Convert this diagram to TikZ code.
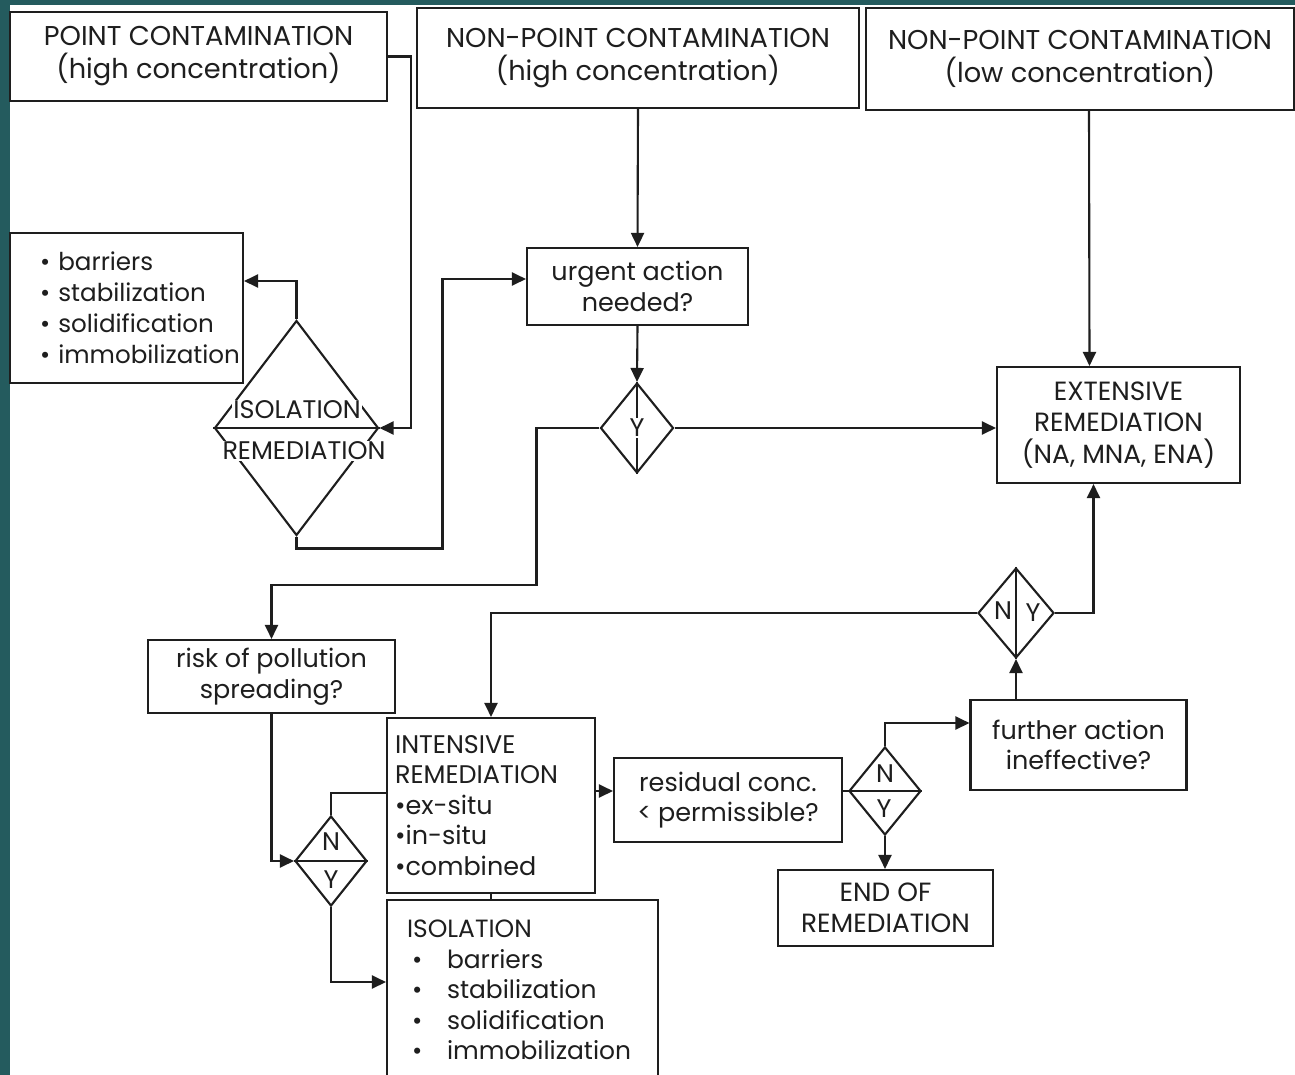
\documentclass[tikz,border=0pt]{standalone}
\usepackage{fontspec}
\setmainfont{Poppins}
\usetikzlibrary{arrows.meta,shapes.geometric}
\definecolor{Teal}{HTML}{245B5E}
\definecolor{Ink}{HTML}{1E1E1E}

\tikzset{
  box/.style={draw=Ink,line width=1.2pt,fill=white,align=center,inner sep=2pt,text=Ink,font=\fontsize{14.5}{17.5}\selectfont},
  head/.style={box,font=\fontsize{15.5}{18.8}\selectfont},
  dec/.style={draw=Ink,line width=1.2pt,diamond,inner sep=0pt},
  tag/.style={text=Ink,fill=white,inner sep=0.6pt,font=\fontsize{14.5}{16}\selectfont},
  link/.style={draw=Ink,line width=1.2pt},
  arr/.style={link,-{Triangle[length=0.28cm,width=0.26cm]}},
}
\newcommand{\bul}{\hspace*{0.1cm}\makebox[0.7cm][l]{\textbullet}}

\begin{document}
\begin{tikzpicture}[x=0.02cm,y=-0.02cm]
    \useasboundingbox (0,0) rectangle (1295,1075);
    \clip (0,0) rectangle (1295,1075);
    \fill[Teal] (0,0) rectangle (1295,1075);
    \fill[white] (10,5) rectangle (1295,1075);

    % sources of contamination
    \node[head,minimum width=7.54cm,minimum height=1.78cm] (pc) at (198.5,56.5) {POINT CONTAMINATION\\(high concentration)};
    \node[head,minimum width=8.84cm,minimum height=2.0cm] (nph) at (638,58) {NON-POINT CONTAMINATION\\(high concentration)};
    \node[head,minimum width=8.56cm,minimum height=2.04cm] (npl) at (1080,59) {NON-POINT CONTAMINATION\\(low concentration)};

    % isolation branch
    \node[box,minimum width=4.66cm,minimum height=3.0cm,align=left,text width=3.46cm,font=\fontsize{14}{17.6}\selectfont] (lst) at (126.5,308) {\mbox{\textbullet~barriers}\\\mbox{\textbullet~stabilization}\\\mbox{\textbullet~solidification}\\\mbox{\textbullet~immobilization}};
    \node[dec,minimum width=3.28cm,minimum height=4.3cm] (isod) at (296.5,428) {};
    \draw[link] (isod.west) -- (isod.east);
    \node[tag] at (297,410) {ISOLATION};
    \node[tag] at (304,451) {REMEDIATION};

    % urgency check
    \node[box,minimum width=4.42cm,minimum height=1.54cm] (urg) at (637.5,286.5) {urgent action\\needed?};
    \node[dec,minimum width=1.46cm,minimum height=1.8cm] (yd) at (637,428) {};
    \draw[link] (yd.north) -- (yd.south);
    \node[tag] at (yd) {Y};

    \node[box,minimum width=4.86cm,minimum height=2.32cm,font=\fontsize{15}{17.9}\selectfont] (ext) at (1118.5,425) {EXTENSIVE\\REMEDIATION\\(NA, MNA, ENA)};
    \node[dec,minimum width=1.52cm,minimum height=1.8cm] (nyd) at (1016,613) {};
    \draw[link] (nyd.north) -- (nyd.south);
    \node[tag] at (1003,611) {N};
    \node[tag] at (1033,613) {Y};

    % intensive branch
    \node[box,minimum width=4.94cm,minimum height=1.46cm] (risk) at (271.5,676.5) {risk of pollution\\spreading?};
    \node[box,minimum width=4.16cm,minimum height=3.5cm,align=left,text width=3.84cm,font=\fontsize{14.5}{17.3}\selectfont] (int) at (491,805.5) {INTENSIVE\\REMEDIATION\\\textbullet ex-situ\\\textbullet in-situ\\\textbullet combined};
    \node[dec,minimum width=1.44cm,minimum height=1.8cm] (nyd2) at (331,861) {};
    \draw[link] (nyd2.west) -- (nyd2.east);
    \node[tag] at (331,842) {N};
    \node[tag] at (331,880) {Y};
    \node[box,minimum width=5.42cm,minimum height=3.6cm,align=left,text width=4.62cm,font=\fontsize{14.2}{17.3}\selectfont] (iso) at (522.5,990) {ISOLATION\\\bul barriers\\\bul stabilization\\\bul solidification\\\bul immobilization};

    \node[box,minimum width=4.56cm,minimum height=1.68cm] (res) at (728,800) {residual conc.\\< permissible?};
    \node[dec,minimum width=1.44cm,minimum height=1.76cm] (nyd3) at (885,791) {};
    \draw[link] (nyd3.west) -- (nyd3.east);
    \node[tag] at (885,774) {N};
    \node[tag] at (884,809) {Y};
    \node[box,minimum width=4.3cm,minimum height=1.52cm,font=\fontsize{15}{17.5}\selectfont] (fin) at (885.5,908) {END OF\\REMEDIATION};
    \node[box,minimum width=4.32cm,minimum height=1.8cm] (fur) at (1078.5,745) {further action\\ineffective?};

    % connectors
    \draw[arr] (pc.east) -- ++(23,0) |- (isod.east);
    \draw[arr] (isod.north) |- ([yshift=0.54cm]lst.east);
    \draw[arr] (isod.south) -- ++(0,12) -- ++(146,0) |- ([yshift=0.15cm]urg.west);
    \draw[arr] (nph.south) -- (urg.north);
    \draw[arr] (urg.south) -- (yd.north);
    \draw[arr] (yd.east) -- (yd.east -| ext.west);
    \draw[arr] (npl.south) ++(9,0) -- ([xshift=-0.58cm]ext.north);
    \draw[arr] (yd.west) -- ++(-63,0) -- ++(0,157) -| (risk.north);
    \draw[arr] (nyd.east) -| ([xshift=-0.5cm]ext.south);
    \draw[arr] (fur.north -| nyd.south) -- (nyd.south);
    \draw[arr] (nyd.west) -| (int.north);
    \draw[arr] (risk.south) |- (nyd2.west);
    \draw[link] (nyd2.north) |- ([yshift=0.25cm]int.west);
    \draw[arr] (nyd2.south) |- ([yshift=0.16cm]iso.west);
    \draw[link] (int.south) -- (int.south |- iso.north);
    \draw[arr] (int.east |- nyd3.west) -- (res.west |- nyd3.west);
    \draw[link] (res.east |- nyd3.west) -- (nyd3.west);
    \draw[arr] (nyd3.north) |- ([yshift=0.44cm]fur.west);
    \draw[arr] (nyd3.south) -- (nyd3.south |- fin.north);
\end{tikzpicture}
\end{document}
